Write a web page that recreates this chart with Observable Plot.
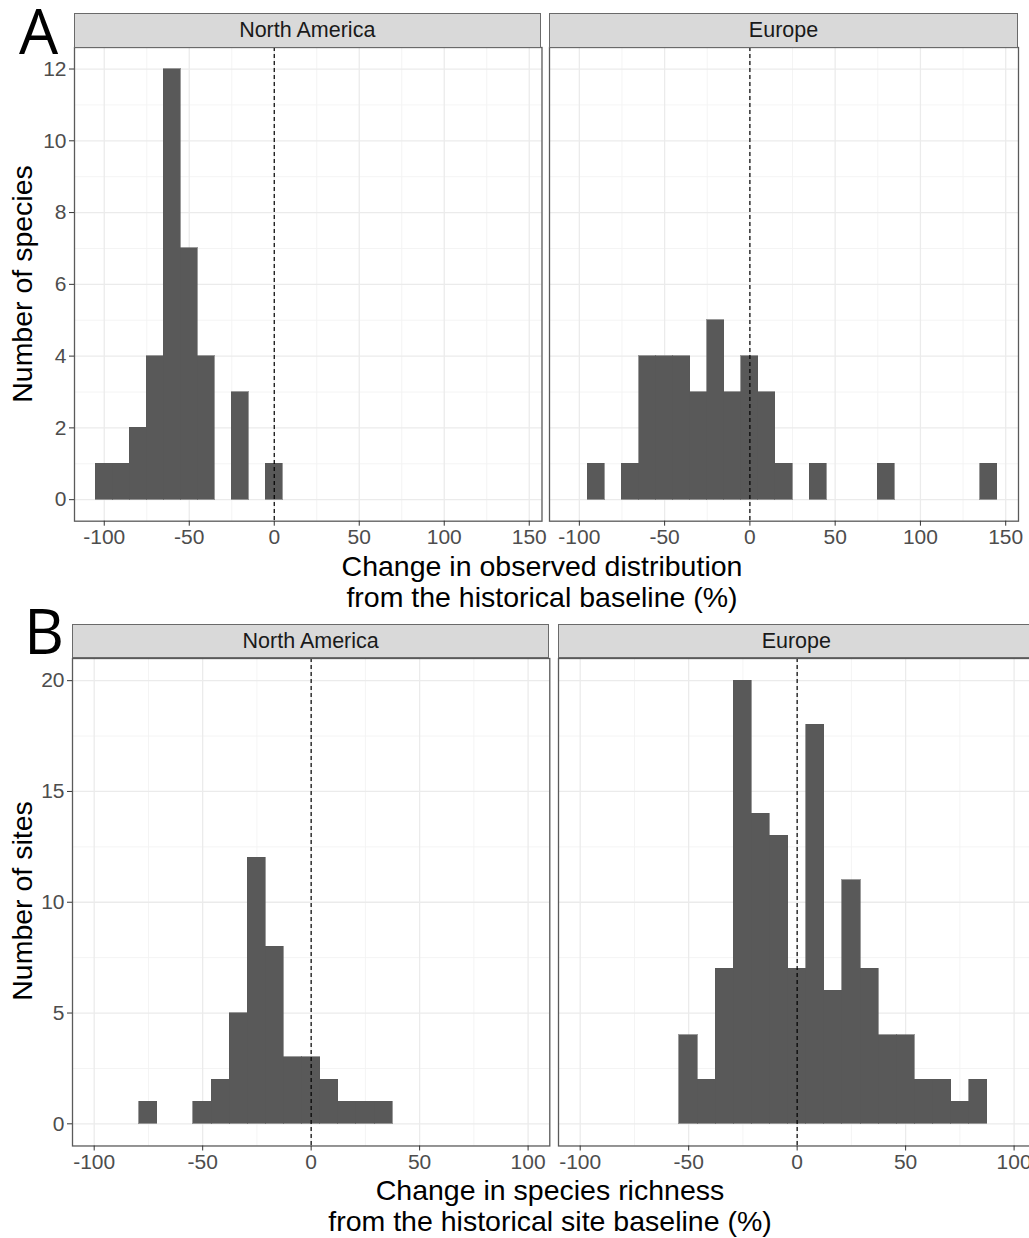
<!DOCTYPE html>
<html><head><meta charset="utf-8">
<script src="https://cdn.jsdelivr.net/npm/d3@7"></script>
<script src="https://cdn.jsdelivr.net/npm/@observablehq/plot@0.6"></script>
<style>
html,body{margin:0;padding:0;background:#fff;overflow:hidden;}
#root{position:relative;width:1029px;height:1238px;overflow:hidden;font-family:"Liberation Sans",Arial,sans-serif;}
.strip{position:absolute;background:#d9d9d9;border:1.3px solid #6a6a6a;box-sizing:border-box;font-size:21.5px;color:#1a1a1a;display:flex;align-items:center;justify-content:center;}
.ytitle{position:absolute;font-size:28.5px;color:#000;white-space:nowrap;transform:translate(-50%,-50%) rotate(-90deg);}
.xtitle{position:absolute;font-size:28.5px;color:#000;line-height:31px;text-align:center;transform:translateX(-50%);white-space:nowrap;}
.tag{position:absolute;font-family:"Open Sans",sans-serif;font-size:62px;color:#000;line-height:46px;}
</style></head><body><div id="root"></div>
<script>
// ---------- data ----------
const regions = ["North America", "Europe"];

// Panel A: change in observed distribution (%), number of species
const xTicksA = [-100, -50, 0, 50, 100, 150];
const xMinorA = [-75, -25, 25, 75, 125];
const yTicksA = [0, 2, 4, 6, 8, 10, 12];
const yMinorA = [1, 3, 5, 7, 9, 11];
const binWidthA = 10;
const naA_centers = [-100, -90, -80, -70, -60, -50, -40, -20, 0];
const naA_counts  = [1, 1, 2, 4, 12, 7, 4, 3, 1];
const euA_centers = [-90, -70, -60, -50, -40, -30, -20, -10, 0, 10, 20, 40, 80, 140];
const euA_counts  = [1, 1, 4, 4, 4, 3, 5, 3, 4, 3, 1, 1, 1, 1];

// Panel B: change in species richness (%), number of sites
const xTicksB = [-100, -50, 0, 50, 100];
const xMinorB = [-75, -25, 25, 75];
const yTicksB = [0, 5, 10, 15, 20];
const yMinorB = [2.5, 7.5, 12.5, 17.5];
const binWidthB = 8.35;
const naB_centers = [-75.15, -50.1, -41.75, -33.4, -25.05, -16.7, -8.35, 0, 8.35, 16.7, 25.05, 33.4];
const naB_counts  = [1, 1, 2, 5, 12, 8, 3, 3, 2, 1, 1, 1];
const euB_centers = [-50.1, -41.75, -33.4, -25.05, -16.7, -8.35, 0, 8.35, 16.7, 25.05, 33.4, 41.75, 50.1, 58.45, 66.8, 75.15, 83.5];
const euB_counts  = [4, 2, 7, 20, 14, 13, 7, 18, 6, 11, 7, 4, 4, 2, 2, 1, 2];

const root = document.getElementById("root");

function addDiv(cls, text, css) {
  const d = document.createElement("div");
  d.className = cls;
  d.innerHTML = text;
  Object.assign(d.style, css);
  root.appendChild(d);
  return d;
}

function panel(o) {
  const mL = o.showY ? 70 : 4, mR = 4, mT = 4, mB = 40;
  const data = o.centers.map((c, i) => ({c, n: o.counts[i]}));
  const bw = o.bw;
  const marks = [
    Plot.ruleX(o.xMinor, {stroke: "#f3f3f3", strokeWidth: 0.9}),
    Plot.ruleY(o.yMinor, {stroke: "#f3f3f3", strokeWidth: 0.9}),
    Plot.ruleX(o.xTicks, {stroke: "#ebebeb", strokeWidth: 1.3}),
    Plot.ruleY(o.yTicks, {stroke: "#ebebeb", strokeWidth: 1.3}),
    Plot.rectY(data, {x1: d => d.c - bw / 2, x2: d => d.c + bw / 2, y: "n", fill: "#595959", stroke: "#595959", strokeWidth: 0.6, shapeRendering: "crispEdges"}),
    Plot.ruleX([0], {stroke: "#000", strokeWidth: 1.2, strokeDasharray: "4,3"}),
    Plot.frame({stroke: "#5a5a5a", strokeWidth: 1.3}),
    Plot.axisX({ticks: o.xTicks, tickFormat: d => String(d), tickSize: 5, tickPadding: 3, label: null, fontSize: 21, stroke: "#333", fill: "#4d4d4d"})
  ];
  if (o.showY) marks.push(Plot.axisY({ticks: o.yTicks, tickFormat: d => String(d), tickSize: 5, tickPadding: 3, label: null, fontSize: 21, stroke: "#333", fill: "#4d4d4d"}));
  const chart = Plot.plot({
    width: o.width + mL + mR,
    height: o.height + mT + mB,
    marginLeft: mL, marginRight: mR, marginTop: mT, marginBottom: mB,
    x: {domain: o.xDomain},
    y: {domain: o.yDomain, axis: o.showY ? undefined : null},
    style: {background: "transparent", fontFamily: "'Liberation Sans', Arial, sans-serif", overflow: "visible", maxWidth: "none", position: "absolute", left: (o.left - mL) + "px", top: (o.top - mT) + "px"},
    marks
  });
  root.appendChild(chart);
  addDiv("strip", o.title, {left: o.left + "px", top: o.stripTop + "px", width: o.width + "px", height: (o.top - o.stripTop + 0.5) + "px"});
}

// Panel A
const aTop = 47, aH = 473.7, aStrip = 12.5;
panel({left: 73.5, top: aTop, width: 467.5, height: aH, stripTop: aStrip, showY: true, title: regions[0],
  xDomain: [-117.5, 157.5], yDomain: [-0.6, 12.6], xTicks: xTicksA, xMinor: xMinorA, yTicks: yTicksA, yMinor: yMinorA,
  centers: naA_centers, counts: naA_counts, bw: binWidthA});
panel({left: 549, top: aTop, width: 469, height: aH, stripTop: aStrip, showY: false, title: regions[1],
  xDomain: [-117.5, 157.5], yDomain: [-0.6, 12.6], xTicks: xTicksA, xMinor: xMinorA, yTicks: yTicksA, yMinor: yMinorA,
  centers: euA_centers, counts: euA_counts, bw: binWidthA});

// Panel B
const bTop = 657.5, bH = 487.5, bStrip = 624;
panel({left: 72, top: bTop, width: 477.3, height: bH, stripTop: bStrip, showY: true, title: regions[0],
  xDomain: [-110, 110], yDomain: [-1, 21], xTicks: xTicksB, xMinor: xMinorB, yTicks: yTicksB, yMinor: yMinorB,
  centers: naB_centers, counts: naB_counts, bw: binWidthB});
panel({left: 557.7, top: bTop, width: 477.3, height: bH, stripTop: bStrip, showY: false, title: regions[1],
  xDomain: [-110, 110], yDomain: [-1, 21], xTicks: xTicksB, xMinor: xMinorB, yTicks: yTicksB, yMinor: yMinorB,
  centers: euB_centers, counts: euB_counts, bw: binWidthB});

// titles and tags
addDiv("ytitle", "Number of species", {left: "22px", top: "284px"});
addDiv("ytitle", "Number of sites", {left: "22px", top: "901px"});
addDiv("xtitle", "Change in observed distribution<br>from the historical baseline (%)", {left: "542px", top: "550.5px"});
addDiv("xtitle", "Change in species richness<br>from the historical site baseline (%)", {left: "550px", top: "1174.5px"});
addDiv("tag", "A", {left: "19px", top: "7px"});
addDiv("tag", "B", {left: "24px", top: "607px"});
</script></body></html>
